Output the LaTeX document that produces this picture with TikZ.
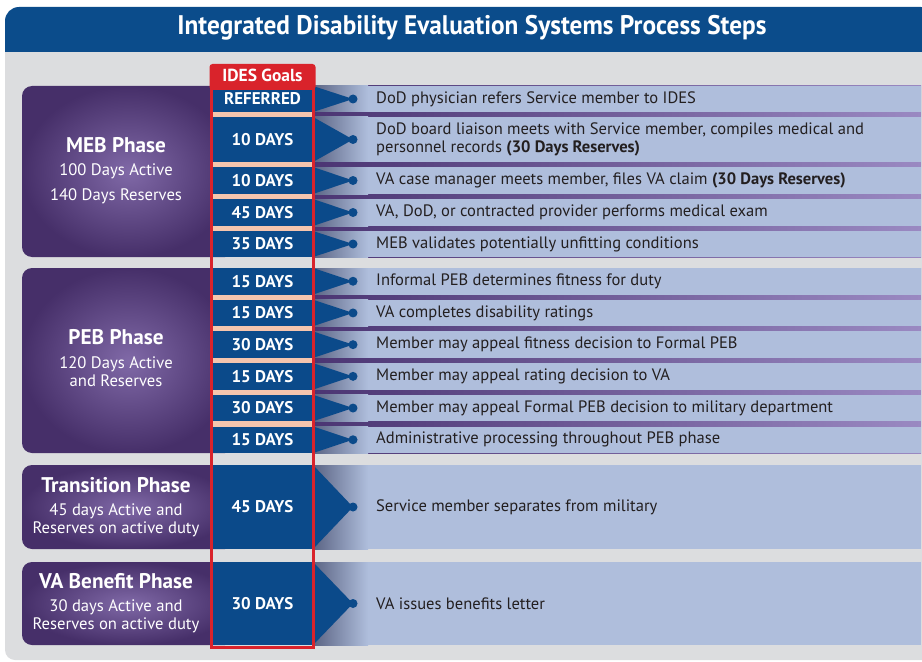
\documentclass[tikz,border=0pt]{standalone}
\usepackage{fontspec}
\setmainfont{PT Sans}
\usetikzlibrary{positioning,calc}

\definecolor{headblue}{HTML}{0B4C8B}
\definecolor{cellblue}{HTML}{0B4A8A}
\definecolor{goalred}{HTML}{D9232B}
\definecolor{peach}{HTML}{F5C5AE}
\definecolor{barblue}{HTML}{AFBEDC}
\definecolor{panelgray}{HTML}{DCDDDF}
\definecolor{phasedark}{HTML}{462F69}
\definecolor{phaselight}{HTML}{8069A7}
\definecolor{sepdark}{HTML}{4B3573}
\definecolor{seplight}{HTML}{9A89C2}
\definecolor{shadowblue}{HTML}{5C6585}
\definecolor{desccol}{HTML}{231F20}

\tikzset{
  daytext/.style={text=white, font=\bfseries\fontsize{17}{20}\selectfont},
  desctext/.style={anchor=west, inner sep=0pt, align=left, text=desccol,
    font=\fontsize{16.6}{18}\selectfont},
  phasebox/.style={inner color=phaselight, outer color=phasedark, rounded corners=10bp},
  phasetitle/.style={text=white, font=\bfseries\fontsize{21.3}{24}\selectfont},
  phasesub/.style={text=white, align=center, font=\fontsize{16.7}{18}\selectfont},
}

% one row of the goals column with its bar
\newcommand{\goalrow}[5]{%
  \pgfmathsetmacro\cy{#2+#3/2}
  \pgfmathsetmacro\by{#2+#3}
  \fill[barblue] (314,#2) rectangle (921,\by);
  \shade[left color=shadowblue, right color=barblue] (314,#2) rectangle (368,\by);
  \fill[cellblue] (211,#2) rectangle (314,\by);
  \fill[cellblue] (313,#2) -- (353,\cy) -- (313,\by) -- cycle;
  \fill[cellblue] (353,\cy) circle (4.5);
  \node[daytext] (d#1) at (262.5,\cy) {#4};
  \node[desctext] (s#1) at (376,\cy) {#5};
}

\begin{document}
\begin{tikzpicture}[x=1bp, y=-1bp]
  \useasboundingbox (0,0) rectangle (922,662);
  \clip (0,0) rectangle (922,662);

  % panel and header
  \fill[panelgray, rounded corners=10bp] (5,20) rectangle (935,660);
  \fill[headblue, rounded corners=14bp] (5,7) rectangle (935,52);
  \fill[headblue] (5,30) rectangle (935,52);
  \node[text=white, font=\bfseries\fontsize{27}{30}\selectfont] (title) at (472,28)
    {\scalebox{0.94}[1]{Integrated Disability Evaluation Systems Process Steps}};

  % phase boxes
  \shade[phasebox] (22,86) rectangle (235,257);
  \shade[phasebox] (22,268) rectangle (235,453);
  \shade[phasebox] (22,465) rectangle (235,549);
  \shade[phasebox] (22,562) rectangle (235,645);

  \node[phasetitle] (meb) at (116,145) {MEB Phase};
  \node[phasesub] (mebsub) at (116,183.5) {100 Days Active\\[7bp]140 Days Reserves};
  \node[phasetitle] (peb) at (116,337) {PEB Phase};
  \node[phasesub] (pebsub) at (116,372) {120 Days Active\\and Reserves};
  \node[phasetitle] (trans) at (116,485) {Transition Phase};
  \node[phasesub] (transsub) at (116,520) {45 days Active and\\Reserves on active duty};
  \node[phasetitle] (vab) at (116,581) {VA Benefit Phase};
  \node[phasesub] (vabsub) at (116,616) {30 days Active and\\Reserves on active duty};

  % separators behind the rows
  \fill[peach] (211,86) rectangle (314,257);
  \shade[left color=sepdark, right color=seplight] (314,86) rectangle (921,257);
  \fill[peach] (211,268) rectangle (314,453);
  \shade[left color=sepdark, right color=seplight] (314,268) rectangle (921,453);

  % MEB rows
  \goalrow{m1}{86}{26}{REFERRED}{DoD physician refers Service member to IDES}
  \goalrow{m2}{117}{45}{10 DAYS}{DoD board liaison meets with Service member, compiles medical and\\personnel records \textbf{(30 Days Reserves)}}
  \goalrow{m3}{167}{27}{10 DAYS}{VA case manager meets member, files VA claim \textbf{(30 Days Reserves)}}
  \goalrow{m4}{199}{27}{45 DAYS}{VA, DoD, or contracted provider performs medical exam}
  \goalrow{m5}{231}{26}{35 DAYS}{MEB validates potentially unfitting conditions}

  % PEB rows
  \foreach \rowtop/\days/\desc [count=\i] in {
      268/15 DAYS/{Informal PEB determines fitness for duty},
      299.7/15 DAYS/{VA completes disability ratings},
      331.4/30 DAYS/{Member may appeal fitness decision to Formal PEB},
      363.1/15 DAYS/{Member may appeal rating decision to VA},
      394.8/30 DAYS/{Member may appeal Formal PEB decision to military department},
      426.5/15 DAYS/{Administrative processing throughout PEB phase}} {
    \goalrow{p\i}{\rowtop}{26.5}{\days}{\desc}
  }

  % transition and benefit rows
  \goalrow{t1}{465}{84}{45 DAYS}{Service member separates from military}
  \goalrow{v1}{562}{83}{30 DAYS}{VA issues benefits letter}

  % goals column
  \draw[goalred, line width=3bp] (211.5,86) rectangle (313.5,647);
  \fill[goalred, rounded corners=3bp] (209.5,64) rectangle (315.5,90);
  \node[text=white, font=\bfseries\fontsize{17.5}{20}\selectfont] (goals) at (262.5,75) {IDES Goals};
\end{tikzpicture}
\end{document}
